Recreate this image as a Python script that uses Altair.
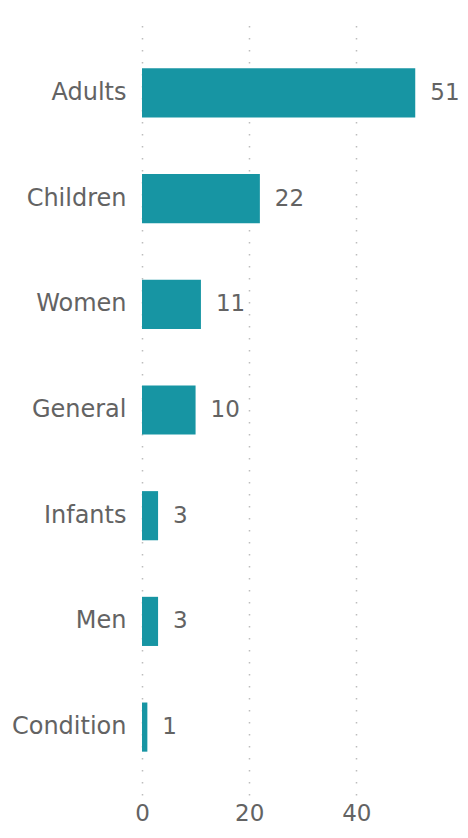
import altair as alt
import pandas as pd

categories = ["Adults", "Children", "Women", "General", "Infants", "Men", "Condition"]
values = [51, 22, 11, 10, 3, 3, 1]

df = pd.DataFrame({"category": categories, "value": values})

FONT = "DejaVu Sans"
TEXT_COLOR = "#636363"
BAR_COLOR = "#1795A3"

y_enc = alt.Y(
    "category:N",
    sort=categories,
    title=None,
    scale=alt.Scale(paddingInner=0.535, paddingOuter=0.41),
    axis=alt.Axis(
        domain=False,
        ticks=False,
        labelFont=FONT,
        labelFontSize=24,
        labelColor=TEXT_COLOR,
        labelPadding=16,
        grid=False,
        labelLimit=300,
    ),
)

x_enc = alt.X(
    "value:Q",
    title=None,
    scale=alt.Scale(domain=[0, 54.5], nice=False),
    axis=alt.Axis(
        values=[0, 20, 40],
        domain=False,
        ticks=False,
        labelFlush=False,
        labelFont=FONT,
        labelFontSize=23,
        labelColor=TEXT_COLOR,
        labelPadding=7,
        grid=True,
        gridColor="#bdbdbd",
        gridDash=[1.5, 10.5],
        gridWidth=1.5,
    ),
)

bars = alt.Chart(df).mark_bar(color=BAR_COLOR).encode(y=y_enc, x=x_enc)

labels = alt.Chart(df).mark_text(
    align="left",
    baseline="middle",
    dx=15,
    font=FONT,
    fontSize=23,
    color=TEXT_COLOR,
).encode(
    y=alt.Y("category:N", sort=categories),
    x=alt.X("value:Q"),
    text=alt.Text("value:Q"),
)

chart = (
    alt.layer(bars, labels)
    .properties(
        width=292,
        height=770,
        background="white",
        autosize=alt.AutoSizeParams(type="none"),
        padding={"left": 134, "top": 17, "right": 26, "bottom": 35},
    )
    .configure_view(stroke=None, strokeWidth=0)
)

chart.save("out.html", embed_options={"renderer": "svg", "actions": False})
